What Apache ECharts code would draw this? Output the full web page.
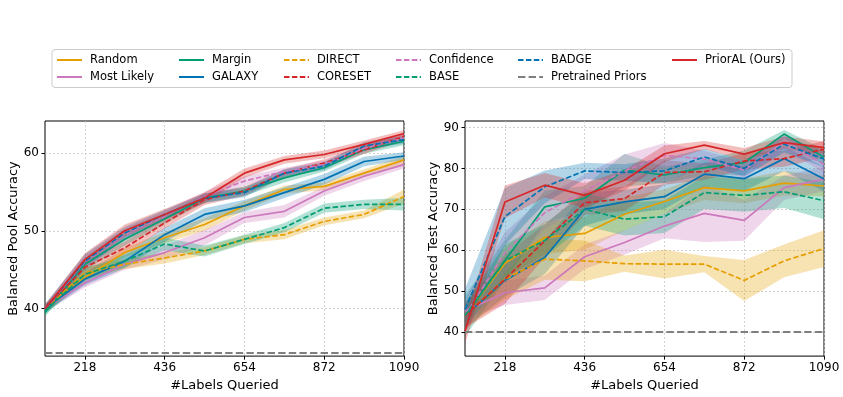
<!DOCTYPE html>
<html>
<head>
<meta charset="utf-8">
<script src="https://cdn.jsdelivr.net/npm/echarts@6/dist/echarts.min.js"></script>
<style>
  html, body { margin: 0; padding: 0; background: #fff; }
  #chart { width: 843px; height: 397px; }
</style>
</head>
<body>
<div id="chart"></div>
<script>
// x positions (labels queried) and tick labels
const labelsQueried = [109, 218, 327, 436, 545, 654, 763, 872, 981, 1090];
const xTicks = [218, 436, 654, 872, 1090];
const poolTicks = [40, 50, 60];
const testTicks = [40, 50, 60, 70, 80, 90];

// legend order (matplotlib draw order)
const methodNames = ['Random', 'Most Likely', 'Margin', 'GALAXY', 'DIRECT', 'CORESET', 'Confidence', 'BASE', 'BADGE', 'PriorAL (Ours)'];

// Balanced pool accuracy (mean / std)
const poolRandom = [40.0, 44.0, 47.2, 49.1, 50.8, 53.2, 55.3, 55.7, 57.4, 59.1];
const poolRandomSd = [0.5, 0.6, 0.6, 0.7, 0.8, 0.6, 0.5, 0.5, 0.5, 0.5];
const poolMostLikely = [40.0, 43.3, 45.7, 47.2, 49.1, 51.7, 52.5, 55.1, 57.0, 58.5];
const poolMostLikelySd = [0.5, 0.6, 0.7, 0.9, 1.0, 0.7, 0.8, 0.6, 0.6, 0.5];
const poolMargin = [39.5, 45.7, 48.9, 51.5, 54.2, 55.1, 56.8, 58.1, 60.4, 61.5];
const poolMarginSd = [0.5, 0.8, 0.8, 0.6, 0.6, 0.6, 0.6, 0.5, 0.5, 0.5];
const poolGalaxy = [40.0, 43.8, 46.1, 49.5, 52.1, 53.2, 54.9, 56.6, 58.9, 59.6];
const poolGalaxySd = [0.5, 0.8, 0.9, 0.9, 0.8, 0.8, 0.7, 0.7, 0.6, 0.5];
const poolDirect = [40.0, 44.6, 45.7, 46.5, 47.4, 48.9, 49.5, 51.2, 52.1, 54.4];
const poolDirectSd = [0.5, 0.7, 0.6, 0.7, 0.5, 0.5, 0.6, 0.5, 0.5, 0.9];
const poolCoreset = [40.0, 45.3, 47.8, 51.0, 54.0, 55.1, 57.4, 58.7, 60.4, 62.1];
const poolCoresetSd = [0.5, 0.8, 0.8, 0.7, 0.7, 0.6, 0.5, 0.5, 0.5, 0.5];
const poolConfidence = [40.0, 46.0, 49.5, 51.9, 54.4, 56.4, 57.6, 58.5, 60.6, 61.9];
const poolConfidenceSd = [0.5, 0.8, 0.8, 0.6, 0.6, 0.6, 0.5, 0.5, 0.5, 0.5];
const poolBase = [39.7, 44.4, 46.1, 48.3, 47.4, 48.9, 50.4, 52.9, 53.4, 53.4];
const poolBaseSd = [0.5, 0.8, 0.8, 0.8, 0.7, 0.6, 0.6, 0.6, 0.6, 0.8];
const poolBadge = [40.0, 46.1, 49.7, 52.1, 54.2, 54.9, 57.4, 58.3, 60.9, 61.7];
const poolBadgeSd = [0.6, 0.9, 0.8, 0.6, 0.6, 0.6, 0.5, 0.5, 0.5, 0.5];
const poolPriorAL = [40.0, 46.3, 50.0, 52.1, 54.2, 57.4, 59.1, 59.8, 61.1, 62.5];
const poolPriorALSd = [0.5, 0.8, 0.8, 0.7, 0.7, 0.6, 0.5, 0.5, 0.5, 0.4];
const poolPretrained = 34.3;

// Balanced test accuracy (mean / std)
const testRandom = [44.0, 56.8, 63.1, 64.1, 68.8, 71.9, 75.3, 74.5, 76.4, 75.7];
const testRandomSd = [3, 4, 4, 4, 4, 3, 3, 3, 3, 2.5];
const testMostLikely = [45.1, 49.6, 50.8, 58.4, 61.9, 65.9, 69.0, 67.3, 75.3, 77.4];
const testMostLikelySd = [2, 3, 3, 3, 3, 3, 7, 5, 3, 3];
const testMargin = [43.9, 57.5, 70.6, 72.7, 79.6, 78.4, 80.2, 81.4, 88.4, 82.7];
const testMarginSd = [5, 5, 4, 3, 4, 2, 2, 3, 1, 2];
const testGalaxy = [44.0, 52.6, 58.2, 70.0, 71.8, 73.1, 78.6, 77.5, 82.4, 77.4];
const testGalaxySd = [3, 4, 4, 4, 3, 3, 3, 3, 3, 3];
const testDirect = [44.0, 52.9, 57.8, 57.4, 56.7, 56.6, 56.6, 52.6, 57.4, 60.4];
const testDirectSd = [3, 5, 5, 5, 2, 3.5, 2, 5, 4, 4.5];
const testCoreset = [43.9, 52.9, 62.3, 71.6, 72.6, 79.0, 79.2, 81.8, 82.4, 84.7];
const testCoresetSd = [3, 6, 4, 3, 3, 3, 2, 2, 2, 2];
const testConfidence = [44.0, 59.4, 69.2, 74.5, 79.4, 83.2, 82.3, 79.6, 86.5, 81.0];
const testConfidenceSd = [4, 5, 4, 4, 4, 3, 2, 2, 2, 2];
const testBase = [44.0, 57.4, 62.4, 70.0, 67.6, 68.2, 74.1, 73.4, 74.3, 72.1];
const testBaseSd = [3, 4, 4, 4, 4, 4, 4, 4, 4, 4.5];
const testBadge = [45.5, 68.2, 75.5, 79.4, 79.0, 79.4, 82.8, 80.0, 85.9, 82.3];
const testBadgeSd = [5, 7, 4, 2, 2, 3, 2, 2, 2, 2];
const testPriorAL = [40.2, 71.8, 75.9, 73.4, 77.1, 83.6, 85.7, 83.5, 86.3, 85.1];
const testPriorALSd = [3, 4, 3, 3, 2.5, 2, 1, 1.5, 1.5, 1.5];
const testPretrained = 40;

const poolMeans = [poolRandom, poolMostLikely, poolMargin, poolGalaxy, poolDirect, poolCoreset, poolConfidence, poolBase, poolBadge, poolPriorAL];
const poolSds = [poolRandomSd, poolMostLikelySd, poolMarginSd, poolGalaxySd, poolDirectSd, poolCoresetSd, poolConfidenceSd, poolBaseSd, poolBadgeSd, poolPriorALSd];
const testMeans = [testRandom, testMostLikely, testMargin, testGalaxy, testDirect, testCoreset, testConfidence, testBase, testBadge, testPriorAL];
const testSds = [testRandomSd, testMostLikelySd, testMarginSd, testGalaxySd, testDirectSd, testCoresetSd, testConfidenceSd, testBaseSd, testBadgeSd, testPriorALSd];

const ORANGE = '#e69f00', PINK = '#cc78bc', GREEN = '#029e73', BLUE = '#0173b2', RED = '#d62728', GRAY = '#7f7f7f';
const styles = [
    { color: ORANGE, dashed: false },
    { color: PINK, dashed: false },
    { color: GREEN, dashed: false },
    { color: BLUE, dashed: false },
    { color: ORANGE, dashed: true },
    { color: RED, dashed: true },
    { color: PINK, dashed: true },
    { color: GREEN, dashed: true },
    { color: BLUE, dashed: true },
    { color: RED, dashed: false }
];

const FONT = 'DejaVu Sans';

const bandSeries = (g, means, sds) => means.map((m, k) => {
    const rows = labelsQueried.map((x, i) => [x, m[i] - sds[k][i], m[i] + sds[k][i]]);
    return {
        type: 'custom',
        xAxisIndex: g,
        yAxisIndex: g,
        silent: true,
        z: 1,
        data: rows,
        encode: { x: 0, y: [1, 2] },
        renderItem: (params, api) => {
            if (params.dataIndex !== 0) return;
            const top = rows.map(r => api.coord([r[0], r[2]]));
            const bot = rows.map(r => api.coord([r[0], r[1]])).reverse();
            return {
                type: 'polygon',
                shape: { points: top.concat(bot) },
                style: { fill: styles[k].color, opacity: 0.3 }
            };
        }
    };
});

const lineSeries = (g, means) => means.map((m, k) => ({
    type: 'line',
    name: methodNames[k],
    xAxisIndex: g,
    yAxisIndex: g,
    z: 3,
    symbol: 'none',
    data: labelsQueried.map((x, i) => [x, m[i]]),
    itemStyle: { color: styles[k].color },
    lineStyle: { color: styles[k].color, width: 1.7, type: styles[k].dashed ? [5.5, 2.4] : 'solid' }
}));

const priorSeries = (g, v) => ({
    type: 'line',
    name: 'Pretrained Priors',
    xAxisIndex: g,
    yAxisIndex: g,
    z: 3,
    symbol: 'none',
    data: [[labelsQueried[0], v], [labelsQueried[labelsQueried.length - 1], v]],
    itemStyle: { color: GRAY },
    lineStyle: { color: GRAY, width: 2, type: [7.4, 3.2] }
});

const xAxisCfg = (g) => ({
    type: 'value',
    gridIndex: g,
    min: 109,
    max: 1090,
    name: '#Labels Queried',
    nameLocation: 'middle',
    nameGap: 19,
    nameTextStyle: { fontFamily: FONT, fontSize: 13, color: '#000' },
    axisLine: { show: false },
    axisTick: { show: true, customValues: xTicks, length: 3.5, lineStyle: { color: '#000' } },
    axisLabel: { customValues: xTicks, margin: 6, fontFamily: FONT, fontSize: 12, color: '#000', formatter: v => String(v) },
    splitLine: { show: true, lineStyle: { color: '#c8c8c8', type: [2, 2], width: 0.8 } }
});

const yAxisCfg = (g, name, min, max, ticks) => ({
    type: 'value',
    gridIndex: g,
    min: min,
    max: max,
    name: name,
    nameLocation: 'middle',
    nameGap: 25,
    nameTextStyle: { fontFamily: FONT, fontSize: 13, color: '#000' },
    axisLine: { show: false },
    axisTick: { show: true, customValues: ticks, length: 3.5, lineStyle: { color: '#000' } },
    axisLabel: { customValues: ticks, margin: 6, fontFamily: FONT, fontSize: 12, color: '#000', formatter: v => String(v) },
    splitLine: { show: true, lineStyle: { color: '#c8c8c8', type: [2, 2], width: 0.8 } }
});

// legend columns, matplotlib style (column-major, 2 rows)
const legendCols = [
    [56, ['Random', 'Most Likely']],
    [178, ['Margin', 'GALAXY']],
    [283, ['DIRECT', 'CORESET']],
    [395, ['Confidence', 'BASE']],
    [517, ['BADGE', 'Pretrained Priors']],
    [671, ['PriorAL (Ours)']]
];

const option = {
    animation: false,
    backgroundColor: '#fff',
    graphic: [{
        type: 'rect',
        z: -1,
        shape: { x: 52, y: 49.5, width: 740, height: 38, r: 3 },
        style: { fill: '#fff', stroke: '#cccccc', lineWidth: 1 }
    }],
    legend: legendCols.map(([left, names]) => ({
        orient: 'vertical',
        left: left,
        top: 54,
        padding: 0,
        itemWidth: 25,
        itemHeight: 14,
        itemGap: 5,
        selectedMode: false,
        data: names,
        itemStyle: { opacity: 0, borderWidth: 0 },
        textStyle: { fontFamily: FONT, fontSize: 11.5, color: '#000', padding: [0, 0, 0, 3] }
    })),
    grid: [
        { left: 45, right: 439, top: 121, bottom: 40, show: true, borderColor: '#000', borderWidth: 1 },
        { left: 465, right: 19, top: 121, bottom: 40, show: true, borderColor: '#000', borderWidth: 1 }
    ],
    xAxis: [xAxisCfg(0), xAxisCfg(1)],
    yAxis: [
        yAxisCfg(0, 'Balanced Pool Accuracy', 33.9, 64.1, poolTicks),
        yAxisCfg(1, 'Balanced Test Accuracy', 34.1, 91.6, testTicks)
    ],
    series: [].concat(
        bandSeries(0, poolMeans, poolSds),
        lineSeries(0, poolMeans),
        [priorSeries(0, poolPretrained)],
        bandSeries(1, testMeans, testSds),
        lineSeries(1, testMeans),
        [priorSeries(1, testPretrained)]
    )
};

const chart = echarts.init(document.getElementById('chart'));
chart.setOption(option);
</script>
</body>
</html>
